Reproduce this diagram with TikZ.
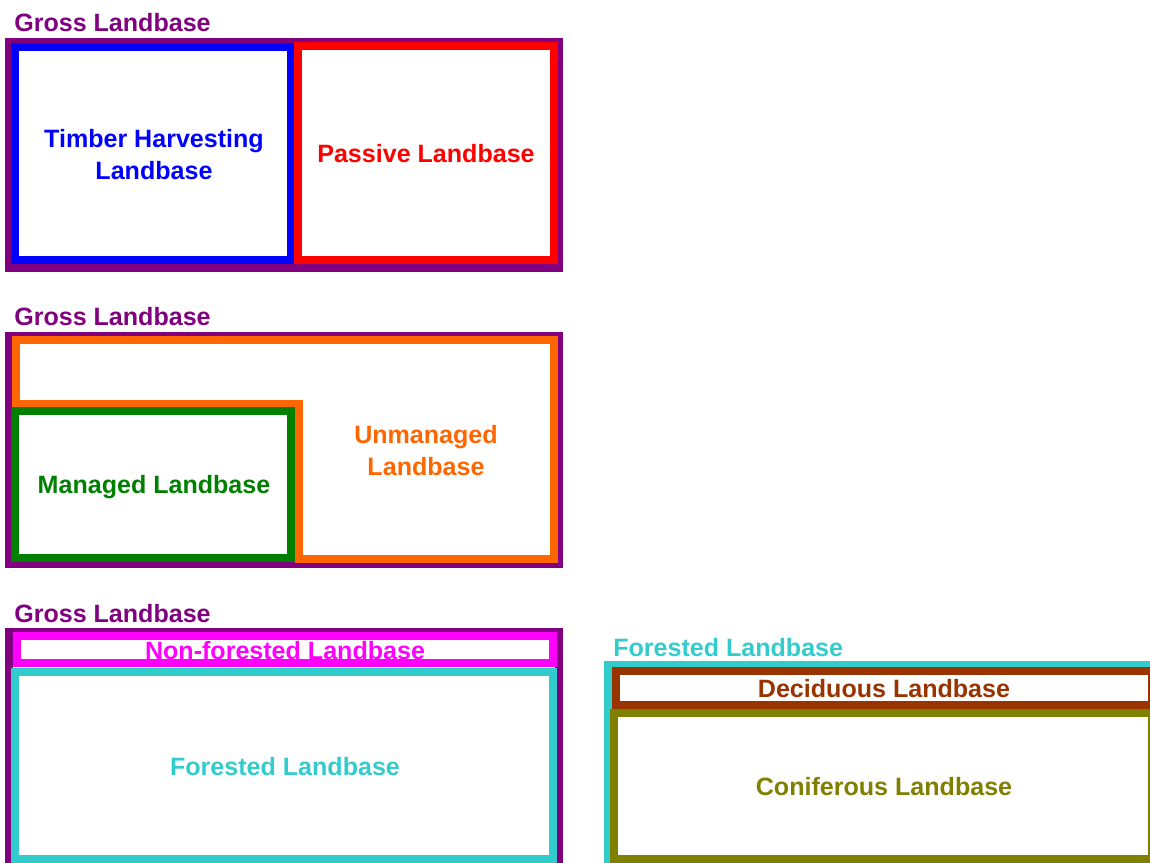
\documentclass[tikz,border=0pt]{standalone}
\usepackage{fontspec}
\setmainfont{Liberation Sans}
\definecolor{grosscol}{HTML}{800080}
\definecolor{thlbcol}{HTML}{0000FF}
\definecolor{passivecol}{HTML}{FF0000}
\definecolor{unmancol}{HTML}{FF6600}
\definecolor{mancol}{HTML}{008000}
\definecolor{nonforcol}{HTML}{FF00FF}
\definecolor{forcol}{HTML}{33CCCC}
\definecolor{decidcol}{HTML}{993300}
\definecolor{conifcol}{HTML}{808000}

\begin{document}
\begin{tikzpicture}[x=0.75pt, y=-0.75pt,
    every node/.style={font=\bfseries\fontsize{18.8}{24}\selectfont, inner sep=0pt, align=center},
    zone/.style={line width=6pt}]
                \path[use as bounding box] (0,0) rectangle (1150,863);
                \clip (0,0) rectangle (1150,863);

                % Bloc 1 : THLB / passif
                \node[grosscol, anchor=west] (gross1) at (14,23) {Gross Landbase};
                \draw[zone, grosscol] (9,42) rectangle (559,268);
                \draw[zone, thlbcol] (15,47) rectangle (291,260);
                \draw[zone, passivecol] (298,46) rectangle (554,260);
                \node[thlbcol] (thlb) at (154,155) {Timber Harvesting\\Landbase};
                \node[passivecol] (passive) at (426,154) {Passive Landbase};

                % Bloc 2 : gere / non gere
                \node[grosscol, anchor=west] (gross2) at (14,317) {Gross Landbase};
                \draw[zone, grosscol] (9,336) rectangle (559,564);
                \draw[zone, unmancol] (16,339.5) -- (554,339.5) -- (554,558.5) -- (298.5,558.5)
                    -- (298.5,404) -- (16,404) -- cycle;
                \draw[zone, mancol] (15,411) rectangle (291,558);
                \node[unmancol] (unman) at (426,451) {Unmanaged\\Landbase};
                \node[mancol] (man) at (154,487) {Managed Landbase};

                % Bloc 3 : foret / non foret
                \node[grosscol, anchor=west] (gross3) at (14,614) {Gross Landbase};
                \draw[zone, grosscol] (9,632) rectangle (559,880);
                \draw[zone, nonforcol] (17,636) rectangle (553,663);
                \draw[zone, forcol] (15,672) rectangle (553,859);
                \node[nonforcol] (nonfor) at (285,651) {Non-forested Landbase};
                \node[forcol] (for) at (285,767) {Forested Landbase};

                % Bloc 4 : feuillus / coniferes
                \node[forcol, anchor=west] (fortitle) at (613,648) {Forested Landbase};
                \draw[zone, forcol] (608,665) rectangle (1170,880);
                \draw[zone, decidcol] (616,671) rectangle (1152,705);
                \draw[zone, conifcol] (614,713) rectangle (1152,859);
                \node[decidcol] (decid) at (884,689) {Deciduous Landbase};
                \node[conifcol] (conif) at (884,787) {Coniferous Landbase};
            \end{tikzpicture}
\end{document}
